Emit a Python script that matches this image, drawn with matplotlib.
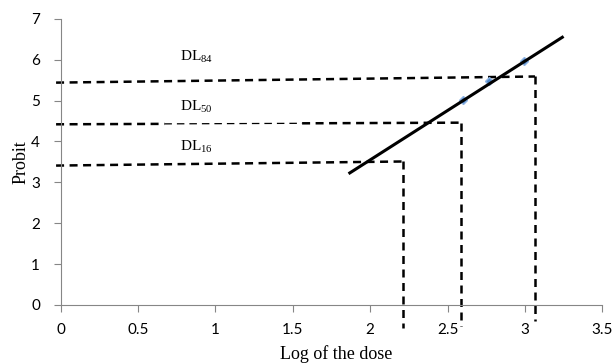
import numpy as np
import matplotlib.pyplot as plt

plt.rcParams['mathtext.fontset'] = 'custom'
plt.rcParams['mathtext.rm'] = 'Liberation Serif'

# observed points (log dose, probit)
log_dose = [2.60, 2.77, 2.995]
probit = [5.02, 5.47, 5.97]

# fitted line end points
fit_x = [1.86, 3.25]
fit_y = [3.21, 6.57]

# dashed guides
dl_names = ['DL$_{16}$', 'DL$_{50}$', 'DL$_{84}$']
dl_x = [2.21, 2.59, 3.065]
dl_y_left = [3.41, 4.42, 5.44]
dl_y_right = [3.51, 4.46, 5.59]
dl_y_bottom = [-0.56, -0.52, -0.40]
label_x = 0.77
label_y = [3.88, 4.84, 6.08]
# the DL50 guide is drawn thinner over this stretch in the original
thin_range = [0.67, 1.56]

fig = plt.figure(figsize=(6.14, 3.63), dpi=100)
ax = fig.add_axes([0.0989, 0.16, 0.882, 0.788])

grey = '#868686'
for i in range(3):
    x0, x1 = -0.03, dl_x[i]
    ya, yb = dl_y_left[i], dl_y_right[i]
    yat = lambda x: ya + (yb - ya) * (x - x0) / (x1 - x0)
    if i == 1:
        a, b = thin_range
        ax.plot([x0, a], [ya, yat(a)], color='black', lw=1.8, dashes=(3.2, 2.2), clip_on=False)
        ax.plot([a, b], [yat(a), yat(b)], color='black', lw=0.9, dashes=(6, 4))
        ax.plot([b, x1], [yat(b), yb], color='black', lw=1.8, dashes=(3.2, 2.2))
    else:
        ax.plot([x0, x1], [ya, yb], color='black', lw=1.8, dashes=(3.2, 2.2), clip_on=False)
    ax.plot([x1, x1], [yb, dl_y_bottom[i]], color='black',
            lw=1.8, dashes=(3.2, 2.2), clip_on=False)
    ax.text(label_x, label_y[i], dl_names[i], fontsize=11,
            family='Liberation Serif', va='center', ha='left')

ax.plot(fit_x, fit_y, color='black', lw=2.2, solid_capstyle='butt', zorder=4)
ax.plot(log_dose, probit, 'D', color='#4f86c6', ms=4.5, mec='#8db3e2', zorder=3)

ax.set_xlim(0, 3.5)
ax.set_ylim(0, 7)
ax.set_xticks(np.arange(0, 3.51, 0.5))
ax.set_xticklabels(['0', '0.5', '1', '1.5', '2', '2.5', '3', '3.5'])
ax.set_yticks(range(8))
for s in ['top', 'right']:
    ax.spines[s].set_visible(False)
for s in ['left', 'bottom']:
    ax.spines[s].set_color(grey)
ax.tick_params(colors=grey, labelcolor='black', length=5, labelsize=11)
ax.tick_params(axis='y', pad=10)
ax.tick_params(axis='x', pad=8)
for lab in ax.get_xticklabels() + ax.get_yticklabels():
    lab.set_family('Lato')

ax.set_xlabel('Log of the dose', family='Liberation Serif', fontsize=13, va='center')
ax.xaxis.set_label_coords(0.508, -0.171)
ax.set_ylabel('Probit', family='Liberation Serif', fontsize=13, va='center')
ax.yaxis.set_label_coords(-0.074, 0.5)

fig.savefig('out.png', dpi=100)
